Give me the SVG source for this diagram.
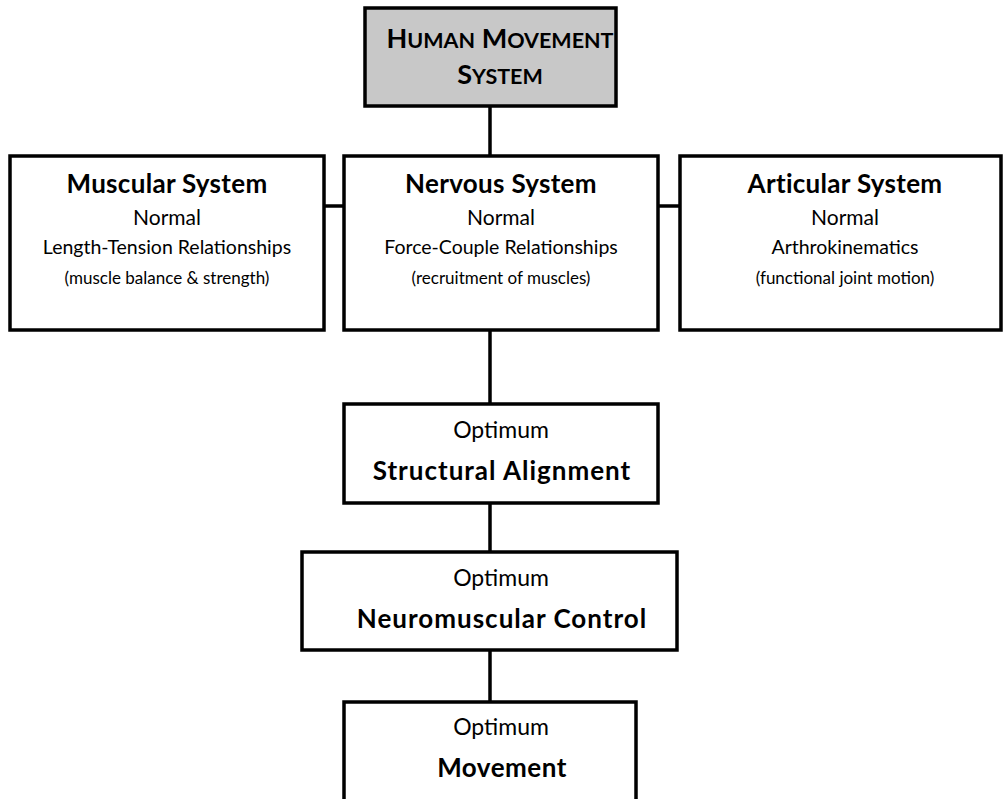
<svg xmlns="http://www.w3.org/2000/svg" width="1003" height="799" viewBox="0 0 1003 799">
<style>
.box{fill:#fff;stroke:#000;stroke-width:3.5}
.top{fill:#c8c8c8;stroke:#000;stroke-width:3.5}
.conn line{stroke:#000;stroke-width:3.5}
text{font-family:Lato,"Open Sans","Liberation Sans",sans-serif;text-anchor:middle;fill:#000}
.t{font-weight:bold;font-size:27px}
.sc{font-size:21.5px}
.h{font-weight:bold;font-size:26px;letter-spacing:0.3px}
.n{font-size:21px}
.r{font-size:19.5px}
.s{font-size:17px}
.o{font-size:23px}
.b{font-weight:bold;font-size:26px;letter-spacing:1px}
.bm{font-weight:bold;font-size:26px;letter-spacing:0.5px}
</style>
<rect width="1003" height="799" fill="#fff"/>
<g id="connectors" class="conn">
<line x1="490" y1="106" x2="490" y2="157"/>
<line x1="324" y1="206" x2="344" y2="206"/>
<line x1="658" y1="206" x2="680" y2="206"/>
<line x1="490" y1="330" x2="490" y2="404"/>
<line x1="490" y1="503" x2="490" y2="552"/>
<line x1="490" y1="650" x2="490" y2="702"/>
</g>
<g id="hms">
<rect class="top" x="365" y="8" width="251" height="98"/>
<text class="t" x="500" y="48">H<tspan class="sc">UMAN</tspan> M<tspan class="sc">OVEMENT</tspan></text>
<text class="t" x="500" y="84">S<tspan class="sc">YSTEM</tspan></text>
</g>
<g id="muscular">
<rect class="box" x="10" y="156" width="314" height="174"/>
<text class="h" x="167" y="193">Muscular System</text>
<text class="n" x="167" y="225">Normal</text>
<text class="r" x="167" y="254">Length-Tension Relationships</text>
<text class="s" x="167" y="284">(muscle balance &amp; strength)</text>
</g>
<g id="nervous">
<rect class="box" x="344" y="156" width="314" height="174"/>
<text class="h" x="501" y="193">Nervous System</text>
<text class="n" x="501" y="225">Normal</text>
<text class="r" x="501" y="254">Force-Couple Relationships</text>
<text class="s" x="501" y="284">(recruitment of muscles)</text>
</g>
<g id="articular">
<rect class="box" x="680" y="156" width="321" height="174"/>
<text class="h" x="845" y="193">Articular System</text>
<text class="n" x="845" y="225">Normal</text>
<text class="r" x="845" y="254">Arthrokinematics</text>
<text class="s" x="845" y="284">(functional joint motion)</text>
</g>
<g id="structural">
<rect class="box" x="344" y="404" width="314" height="99"/>
<text class="o" x="501" y="438">Optimum</text>
<text class="b" x="502" y="480">Structural Alignment</text>
</g>
<g id="neuromuscular">
<rect class="box" x="302" y="552" width="375" height="98"/>
<text class="o" x="501" y="586">Optimum</text>
<text class="b" x="502" y="628">Neuromuscular Control</text>
</g>
<g id="movement">
<rect class="box" x="344" y="702" width="292" height="110"/>
<text class="o" x="501" y="735">Optimum</text>
<text class="bm" x="502" y="777">Movement</text>
</g>
</svg>
